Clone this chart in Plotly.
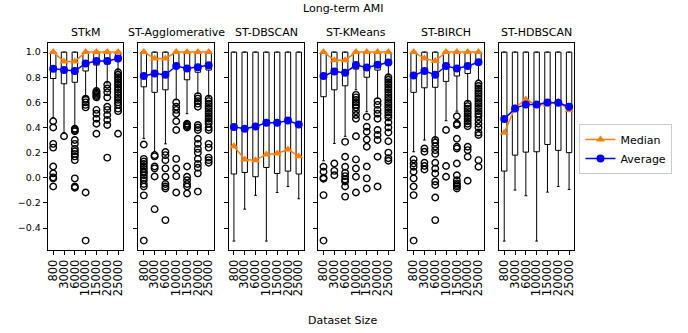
import plotly.graph_objects as go

SIZES = ["800", "3000", "6000", "10000", "15000", "20000", "25000"]
METHODS = ["STkM", "ST-Agglomerative", "ST-DBSCAN", "ST-KMeans", "ST-BIRCH", "ST-HDBSCAN"]

# ---- STkM ----
STKM_Q1 = [0.79, 0.748, 0.76, 0.85, 0.897, 0.905, 0.93]
STKM_Q3 = [1.0, 1.0, 1.0, 1.0, 1.0, 1.0, 1.0]
STKM_MED = [1.0, 0.926, 0.926, 1.0, 1.0, 1.0, 1.0]
STKM_MEAN = [0.867, 0.857, 0.85, 0.91, 0.93, 0.93, 0.95]
STKM_LO = [0.48, 0.36, 0.41, 0.645, 0.70, 0.755, 0.857]
STKM_HI = [1.0, 1.0, 1.0, 1.0, 1.0, 1.0, 1.0]
STKM_OUT = [
    [0.45, 0.40, 0.27, 0.24, 0.09, 0.035, 0.003, -0.005, -0.07],
    [0.33],
    [0.39, 0.38, 0.37, 0.30, 0.27, 0.23, 0.21, 0.19, 0.17, 0.14, -0.005, -0.07, -0.08],
    [0.63, 0.62, 0.60, 0.58, 0.56, -0.117, -0.5],
    [0.69, 0.68, 0.67, 0.66, 0.65, 0.64, 0.54, 0.51, 0.47, 0.43, 0.35],
    [0.74, 0.71, 0.68, 0.64, 0.565, 0.54, 0.50, 0.46, 0.42, 0.16],
    [0.84, 0.82, 0.80, 0.78, 0.76, 0.74, 0.72, 0.70, 0.68, 0.66, 0.64, 0.62, 0.60, 0.58, 0.55, 0.53, 0.35],
]

# ---- ST-Agglomerative ----
AGG_Q1 = [0.724, 0.68, 0.70, 0.883, 0.78, 0.84, 0.857]
AGG_Q3 = [1.0, 1.0, 1.0, 1.0, 1.0, 1.0, 1.0]
AGG_MED = [1.0, 0.95, 0.95, 1.0, 1.0, 1.0, 1.0]
AGG_MEAN = [0.81, 0.83, 0.82, 0.89, 0.87, 0.88, 0.896]
AGG_LO = [0.313, 0.21, 0.27, 0.62, 0.51, 0.67, 0.645]
AGG_HI = [1.0, 1.0, 1.0, 1.0, 1.0, 1.0, 1.0]
AGG_OUT = [
    [0.265, 0.15, 0.13, 0.11, 0.09, 0.07, 0.05, 0.04, 0.02, 0.0, -0.02, -0.05, -0.07, -0.14, -0.5],
    [0.18, 0.17, 0.09, 0.075, 0.01, -0.25],
    [0.205, 0.18, 0.14, 0.075, 0.008, -0.05, -0.07, -0.085, -0.337],
    [0.60, 0.565, 0.54, 0.51, 0.45, 0.38, 0.15, 0.074, 0.013, -0.117],
    [0.43, 0.42, 0.41, 0.40, 0.09, 0.008, -0.02, -0.05, -0.07, -0.125],
    [0.65, 0.63, 0.61, 0.59, 0.565, 0.42, 0.40, 0.38, 0.31, 0.27, 0.23, 0.20, 0.15, 0.11, 0.08, 0.035, -0.11],
    [0.63, 0.61, 0.59, 0.57, 0.55, 0.53, 0.51, 0.49, 0.47, 0.45, 0.43, 0.40, 0.38, 0.27, 0.24, 0.16, 0.14, 0.12],
]

# ---- ST-DBSCAN ----
DB_Q1 = [0.03, 0.042, 0.008, 0.082, 0.034, 0.053, 0.03]
DB_Q3 = [1.0, 1.0, 1.0, 1.0, 1.0, 1.0, 1.0]
DB_MED = [0.25, 0.146, 0.14, 0.186, 0.194, 0.225, 0.172]
DB_MEAN = [0.405, 0.39, 0.408, 0.437, 0.437, 0.456, 0.424]
DB_LO = [-0.504, -0.25, -0.14, -0.504, -0.117, -0.07, -0.167]
DB_HI = [1.0, 1.0, 1.0, 1.0, 1.0, 1.0, 1.0]
DB_OUT = [[], [], [], [], [], [], []]

# ---- ST-KMeans ----
KM_Q1 = [0.645, 0.70, 0.732, 0.865, 0.80, 0.857, 0.905]
KM_Q3 = [1.0, 1.0, 1.0, 1.0, 1.0, 1.0, 1.0]
KM_MED = [1.0, 0.936, 0.936, 1.0, 1.0, 1.0, 1.0]
KM_MEAN = [0.81, 0.846, 0.836, 0.897, 0.878, 0.90, 0.918]
KM_LO = [0.135, 0.273, 0.33, 0.70, 0.525, 0.63, 0.817]
KM_HI = [1.0, 1.0, 1.0, 1.0, 1.0, 1.0, 1.0]
KM_OUT = [
    [0.088, 0.048, 0.0, -0.008, -0.138, -0.5],
    [0.114, 0.055, 0.02],
    [0.286, 0.167, 0.088, 0.04, 0.013, -0.013, -0.03, -0.07, -0.15],
    [0.66, 0.64, 0.62, 0.60, 0.58, 0.56, 0.53, 0.50, 0.47, 0.33, 0.146, 0.074, 0.008, -0.117],
    [0.485, 0.406, 0.366, 0.305, 0.247, 0.09, -0.005, -0.085],
    [0.61, 0.58, 0.54, 0.51, 0.47, 0.38, 0.34, 0.30, 0.167, -0.07],
    [0.80, 0.78, 0.76, 0.74, 0.72, 0.70, 0.68, 0.66, 0.64, 0.62, 0.60, 0.58, 0.56, 0.54, 0.52, 0.50,
     0.48, 0.44, 0.40, 0.36, 0.29, 0.20, 0.155, 0.135],
]

# ---- ST-BIRCH ----
BI_Q1 = [0.68, 0.716, 0.72, 0.767, 0.81, 0.83, 0.905]
BI_Q3 = [1.0, 1.0, 1.0, 1.0, 1.0, 1.0, 1.0]
BI_MED = [1.0, 0.95, 0.93, 1.0, 1.0, 1.0, 1.0]
BI_MEAN = [0.814, 0.85, 0.82, 0.89, 0.87, 0.89, 0.92]
BI_LO = [0.207, 0.30, 0.31, 0.454, 0.53, 0.605, 0.777]
BI_HI = [1.0, 1.0, 1.0, 1.0, 1.0, 1.0, 1.0]
BI_OUT = [
    [0.146, 0.114, 0.088, 0.048, -0.005, -0.07, -0.138, -0.5],
    [0.233, 0.207, 0.12, 0.093, 0.066],
    [0.30, 0.28, 0.25, 0.22, 0.19, 0.12, 0.074, 0.034, -0.03, -0.058, -0.157, -0.337],
    [0.38, 0.093, 0.008],
    [0.49, 0.43, 0.42, 0.31, 0.247, 0.233, 0.114, 0.02, -0.02, -0.045, -0.058, -0.07, -0.085],
    [0.59, 0.57, 0.55, 0.53, 0.51, 0.49, 0.47, 0.45, 0.43, 0.41, 0.247, 0.22, 0.167, -0.024],
    [0.75, 0.73, 0.71, 0.69, 0.67, 0.65, 0.63, 0.61, 0.59, 0.57, 0.55, 0.53, 0.51, 0.49, 0.46, 0.43,
     0.40, 0.36, 0.34, 0.14, 0.088],
]

# ---- ST-HDBSCAN ----
HD_Q1 = [0.053, 0.18, 0.204, 0.207, 0.265, 0.218, 0.20]
HD_Q3 = [1.0, 1.0, 1.0, 1.0, 1.0, 1.0, 1.0]
HD_MED = [0.358, 0.557, 0.623, 0.578, 0.584, 0.605, 0.538]
HD_MEAN = [0.467, 0.552, 0.584, 0.584, 0.60, 0.597, 0.565]
HD_LO = [-0.504, -0.098, -0.143, -0.504, -0.114, -0.07, -0.093]
HD_HI = [1.0, 1.0, 1.0, 1.0, 1.0, 1.0, 1.0]
HD_OUT = [[], [], [], [], [], [], []]

DATA = [
    (STKM_Q1, STKM_Q3, STKM_MED, STKM_MEAN, STKM_LO, STKM_HI, STKM_OUT),
    (AGG_Q1, AGG_Q3, AGG_MED, AGG_MEAN, AGG_LO, AGG_HI, AGG_OUT),
    (DB_Q1, DB_Q3, DB_MED, DB_MEAN, DB_LO, DB_HI, DB_OUT),
    (KM_Q1, KM_Q3, KM_MED, KM_MEAN, KM_LO, KM_HI, KM_OUT),
    (BI_Q1, BI_Q3, BI_MED, BI_MEAN, BI_LO, BI_HI, BI_OUT),
    (HD_Q1, HD_Q3, HD_MED, HD_MEAN, HD_LO, HD_HI, HD_OUT),
]

W, H = 688, 333
FONT = "DejaVu Sans"
LEFTS = [46, 137, 227.5, 317.5, 408, 499]
AX_W = 76
Y_TOP, Y_BOT = 42.7, 250
ORANGE = "#ff7f0e"
BLUE = "#0000ff"

fig = go.Figure()
xs = list(range(len(SIZES)))
layout = {}
annotations = []

for i, (name, (q1, q3, med, mean, lo, hi, out)) in enumerate(zip(METHODS, DATA)):
    n = i + 1
    xa = "x" if n == 1 else f"x{n}"
    ya = "y" if n == 1 else f"y{n}"
    fig.add_trace(go.Box(
        x=xs, q1=q1, q3=q3, median=med, lowerfence=lo, upperfence=hi,
        width=0.5, whiskerwidth=0.5, fillcolor="white",
        line=dict(color="black", width=1), boxpoints=False,
        showlegend=False, hoverinfo="skip", xaxis=xa, yaxis=ya,
    ))
    ox, oy = [], []
    for j, vals in enumerate(out):
        for v in vals:
            ox.append(j)
            oy.append(v)
    if ox:
        fig.add_trace(go.Scatter(
            x=ox, y=oy, mode="markers",
            marker=dict(symbol="circle-open", size=6.5, color="black", line=dict(width=1.4)),
            showlegend=False, hoverinfo="skip", xaxis=xa, yaxis=ya,
        ))
    fig.add_trace(go.Scatter(
        x=xs, y=med, mode="lines+markers", name="Median",
        line=dict(color=ORANGE, width=1.5),
        marker=dict(symbol="triangle-up", size=8, color=ORANGE),
        showlegend=(n == 1), xaxis=xa, yaxis=ya,
    ))
    fig.add_trace(go.Scatter(
        x=xs, y=mean, mode="lines+markers", name="Average",
        line=dict(color=BLUE, width=1.5),
        marker=dict(symbol="circle", size=8, color=BLUE),
        showlegend=(n == 1), xaxis=xa, yaxis=ya,
    ))
    x0 = LEFTS[i] / W
    x1 = (LEFTS[i] + AX_W) / W
    layout["xaxis" if n == 1 else f"xaxis{n}"] = dict(
        domain=[x0, x1], anchor=ya, range=[-0.5, 6.5],
        tickmode="array", tickvals=xs, ticktext=SIZES, tickangle=-90,
        ticks="outside", ticklen=4, tickcolor="black",
        tickfont=dict(family=FONT, size=11.5, color="black"),
        showline=True, mirror=True, linecolor="black", linewidth=1,
        showgrid=False, zeroline=False, fixedrange=True,
    )
    layout["yaxis" if n == 1 else f"yaxis{n}"] = dict(
        domain=[1 - Y_BOT / H, 1 - Y_TOP / H], anchor=xa, range=[-0.575, 1.075],
        tickmode="array", tickvals=[-0.4, -0.2, 0.0, 0.2, 0.4, 0.6, 0.8, 1.0],
        ticktext=["\u22120.4", "\u22120.2", "0.0", "0.2", "0.4", "0.6", "0.8", "1.0"],
        showticklabels=(n == 1),
        ticks="outside", ticklen=4, tickcolor="black",
        tickfont=dict(family=FONT, size=9.5, color="black"),
        showline=True, mirror=True, linecolor="black", linewidth=1,
        showgrid=False, zeroline=False, fixedrange=True,
    )
    annotations.append(dict(
        text=name, x=(x0 + x1) / 2, y=1 - 33 / H, xref="paper", yref="paper",
        xanchor="center", yanchor="middle", showarrow=False,
        font=dict(family=FONT, size=11, color="black"),
    ))

annotations.append(dict(
    text="Long-term AMI", x=342 / W, y=1 - 8 / H, xref="paper", yref="paper",
    xanchor="center", yanchor="middle", showarrow=False,
    font=dict(family=FONT, size=11, color="black"),
))
annotations.append(dict(
    text="Dataset Size", x=342 / W, y=1 - 320 / H, xref="paper", yref="paper",
    xanchor="center", yanchor="middle", showarrow=False,
    font=dict(family=FONT, size=11, color="black"),
))

fig.update_layout(
    width=W, height=H,
    margin=dict(l=0, r=0, t=0, b=0),
    paper_bgcolor="white", plot_bgcolor="white",
    font=dict(family=FONT, color="black"),
    annotations=annotations,
    legend=dict(
        x=580 / W, y=1 - 124 / H, xanchor="left", yanchor="top",
        bordercolor="#cccccc", borderwidth=1, bgcolor="white",
        font=dict(family=FONT, size=11, color="black"),
        itemwidth=30, tracegroupgap=0,
    ),
    **layout,
)

fig.write_html(
    "out.html",
    config={"displayModeBar": False},
    post_script="document.body.style.margin='0';document.body.style.overflow='hidden';",
)
